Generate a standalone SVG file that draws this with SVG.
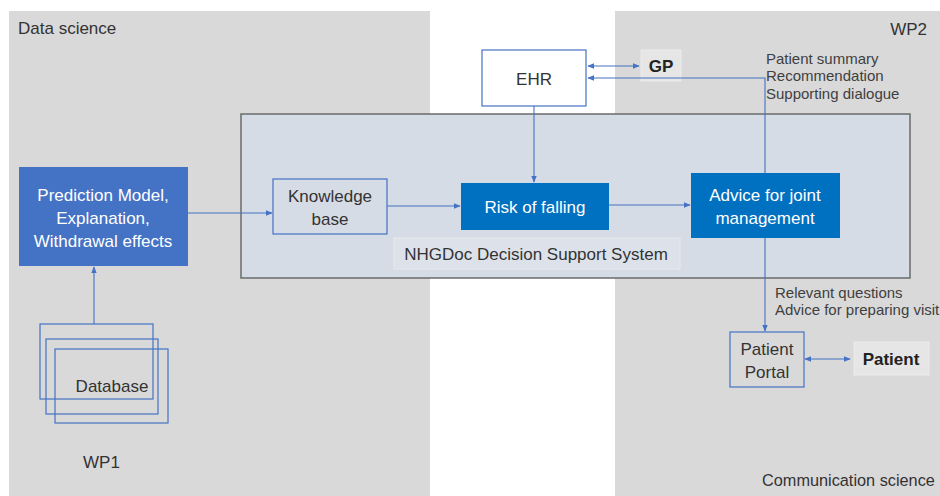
<svg xmlns="http://www.w3.org/2000/svg" width="940" height="496" viewBox="0 0 940 496">
<defs>
<marker id="ah" viewBox="0 0 10 10" refX="9" refY="5" markerWidth="7" markerHeight="7" orient="auto-start-reverse" markerUnits="userSpaceOnUse">
<path d="M0,1 L10,5 L0,9 z" fill="#4472c4"/>
</marker>
<style>
.panel{fill:#d9d9d9}
.t{font-family:"Liberation Sans",Arial,sans-serif;font-size:17px;fill:#333}
.a{font-family:"Liberation Sans",Arial,sans-serif;font-size:15px;fill:#404040}
.w{font-family:"Liberation Sans",Arial,sans-serif;font-size:17px;fill:#fff;text-anchor:middle}
.d{font-family:"Liberation Sans",Arial,sans-serif;font-size:17px;fill:#333;text-anchor:middle}
.b{font-family:"Liberation Sans",Arial,sans-serif;font-size:17px;font-weight:bold;fill:#222;text-anchor:middle}
.ob{fill:none;stroke:#4472c4;stroke-width:1.2}
.c{fill:none;stroke:#4472c4;stroke-width:1.1}
</style>
</defs>
<rect width="940" height="496" fill="#fff"/>
<g id="panel-data-science">
<rect class="panel" x="9" y="11" width="421" height="485"/>
<text class="t" x="18" y="34">Data science</text>
<text class="t" x="83" y="468">WP1</text>
</g>
<g id="panel-communication-science">
<rect class="panel" x="615" y="11" width="325" height="485"/>
<text class="t" x="927" y="35" text-anchor="end">WP2</text>
<text class="t" x="762" y="486" style="font-size:16.3px">Communication science</text>
</g>
<g id="nhgdoc">
<rect x="241" y="114" width="669" height="164" fill="#d6dce5" stroke="#6b6b6b" stroke-width="1.5"/>
<rect x="394" y="238" width="286" height="31" fill="#dde2ea" stroke="#e6e9ee" stroke-width="1"/>
<text class="d" x="536" y="260">NHGDoc Decision Support System</text>
</g>
<g id="ehr">
<rect x="482" y="50" width="104" height="56" fill="#fff" stroke="#4472c4" stroke-width="1.2"/>
<text class="d" x="534" y="85">EHR</text>
</g>
<g id="gp">
<rect x="641" y="50" width="40" height="31" fill="#e6e6e6" stroke="#ececec" stroke-width="1"/>
<text class="b" x="661" y="72">GP</text>
</g>
<g id="prediction-model">
<rect x="19" y="167" width="169" height="99" fill="#4472c4"/>
<text class="w" x="103" y="201">Prediction Model,</text>
<text class="w" x="103" y="224">Explanation,</text>
<text class="w" x="103" y="247">Withdrawal effects</text>
</g>
<g id="knowledge-base">
<rect x="273" y="179" width="114" height="55" fill="#d6dce5" stroke="#4472c4" stroke-width="1.2"/>
<text class="d" x="330" y="202">Knowledge</text>
<text class="d" x="330" y="225">base</text>
</g>
<g id="risk-of-falling">
<rect x="461" y="183" width="148" height="47" fill="#0070c0"/>
<text class="w" x="535" y="213">Risk of falling</text>
</g>
<g id="advice">
<rect x="691" y="173" width="149" height="65" fill="#0070c0"/>
<text class="w" x="765" y="201">Advice for joint</text>
<text class="w" x="765" y="224">management</text>
</g>
<g id="database">
<rect class="ob" x="40" y="324" width="113" height="75"/>
<rect class="ob" x="46" y="339" width="112" height="75"/>
<rect class="ob" x="55" y="349" width="113" height="74"/>
<text class="d" x="112" y="392">Database</text>
</g>
<g id="patient-portal">
<rect x="730" y="332" width="74" height="55" fill="#d9d9d9" stroke="#4472c4" stroke-width="1.2"/>
<text class="d" x="767" y="355">Patient</text>
<text class="d" x="767" y="378">Portal</text>
</g>
<g id="patient">
<rect x="854" y="342" width="75" height="33" fill="#e6e6e6" stroke="#ececec" stroke-width="1"/>
<text class="b" x="891" y="365">Patient</text>
</g>
<g id="connectors">
<line class="c" x1="588" y1="66" x2="639" y2="66" marker-start="url(#ah)" marker-end="url(#ah)"/>
<polyline class="c" points="765,173 765,78 588,78" marker-end="url(#ah)"/>
<line class="c" x1="534" y1="106" x2="534" y2="182" marker-end="url(#ah)"/>
<line class="c" x1="188" y1="213" x2="272" y2="213" marker-end="url(#ah)"/>
<line class="c" x1="387" y1="206" x2="460" y2="206" marker-end="url(#ah)"/>
<line class="c" x1="609" y1="205" x2="690" y2="205" marker-end="url(#ah)"/>
<line class="c" x1="94" y1="324" x2="94" y2="267" marker-end="url(#ah)"/>
<line class="c" x1="765" y1="238" x2="765" y2="331" marker-end="url(#ah)"/>
<line class="c" x1="805" y1="359" x2="850" y2="359" marker-start="url(#ah)" marker-end="url(#ah)"/>
</g>
<g id="labels">
<text class="a" x="766" y="64">Patient summary</text>
<text class="a" x="766" y="81">Recommendation</text>
<text class="a" x="766" y="99">Supporting dialogue</text>
<text class="a" x="775" y="298">Relevant questions</text>
<text class="a" x="775" y="315">Advice for preparing visit</text>
</g>
</svg>
